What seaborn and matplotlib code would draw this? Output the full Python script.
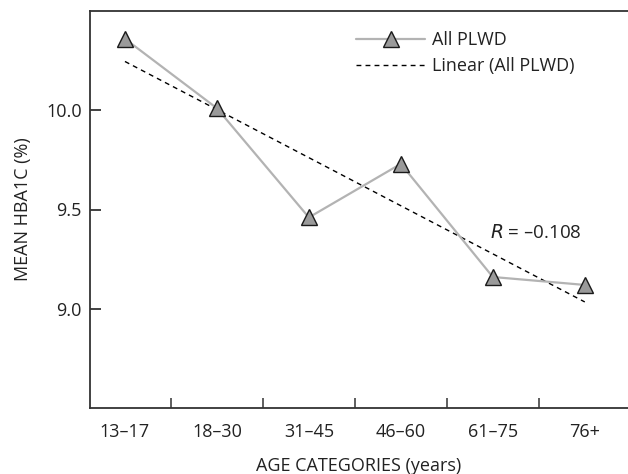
import matplotlib
matplotlib.use("Agg")
import matplotlib.pyplot as plt
import numpy as np
import pandas as pd
import seaborn as sns
from matplotlib.ticker import FixedLocator

# data
age_groups = ["13–17", "18–30", "31–45", "46–60", "61–75", "76+"]
mean_hba1c = [10.36, 10.01, 9.46, 9.73, 9.16, 9.12]
y_ticks = [9.0, 9.5, 10.0]
r_text = "–0.108"

sns.set_style("ticks")
plt.rcParams["font.family"] = ["Open Sans", "DejaVu Sans"]

df = pd.DataFrame({"pos": np.arange(len(age_groups)), "hba1c": mean_hba1c})

# linear trend from the series itself
slope, intercept = np.polyfit(df["pos"], df["hba1c"], 1)
df["trend"] = intercept + slope * df["pos"]

fig = plt.figure(figsize=(6.28, 4.74), dpi=100)
ax = fig.add_axes([90 / 628, 66 / 474, 1 - 90 / 628, (408 - 11) / 474])

sns.lineplot(data=df, x="pos", y="trend", ax=ax, color="black", lw=1.0,
             linestyle=(0, (3.5, 3)), label="Linear (All PLWD)")
sns.lineplot(data=df, x="pos", y="hba1c", ax=ax, color="#b3b3b3", lw=1.6,
             marker="^", markersize=12, markerfacecolor="#9a9a9a",
             markeredgecolor="#1a1a1a", markeredgewidth=1.0, label="All PLWD")

ax.set_xlim(-0.38, 5.47)
ax.set_ylim(8.5, 10.5)

ax.set_xticks(df["pos"])
ax.set_xticklabels(age_groups, fontsize=13, color="#222222")
ax.xaxis.set_minor_locator(FixedLocator(df["pos"][:-1] + 0.5))
ax.tick_params(axis="x", which="major", length=0, pad=11)
ax.tick_params(axis="x", which="minor", direction="in", length=7, width=1.1, color="#333333")

ax.set_yticks(y_ticks)
ax.set_yticklabels([f"{v:.1f}" for v in y_ticks], fontsize=13, color="#222222")
ax.tick_params(axis="y", direction="in", length=8, width=1.3, color="#333333", pad=6)

ax.set_xlabel("AGE CATEGORIES (years)", fontsize=13, color="#222222", labelpad=11)
ax.set_ylabel("MEAN HBA1C (%)", fontsize=13, color="#222222", labelpad=10)

for side in ["left", "bottom", "top"]:
    ax.spines[side].set_color("#333333")
    ax.spines[side].set_linewidth(1.3)
ax.spines["right"].set_visible(False)

ax.text(3.97, 9.38, "$R$ = " + r_text, fontsize=13.5, color="#222222", va="center", ha="left")

handles, labels = ax.get_legend_handles_labels()
ax.legend(handles[::-1], labels[::-1], loc="upper left", bbox_to_anchor=(0.465, 0.99),
          frameon=False, fontsize=13, handlelength=3.8, handletextpad=0.4,
          labelspacing=0.45, labelcolor="#222222")

fig.savefig("out.png", dpi=100)
